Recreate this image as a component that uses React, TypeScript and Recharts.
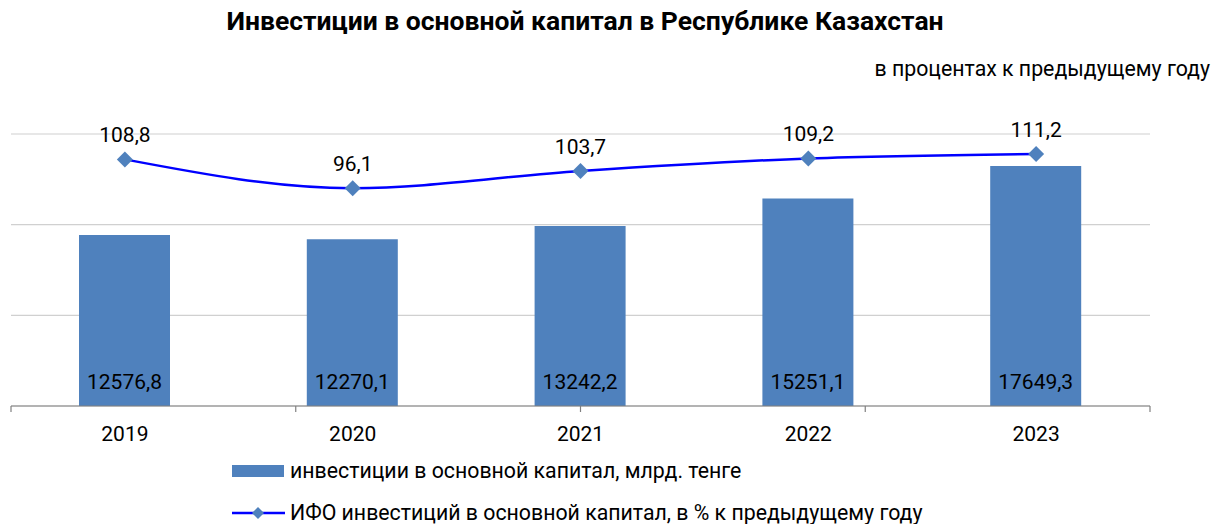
import {
  ComposedChart,
  Bar,
  Line,
  XAxis,
  YAxis,
  CartesianGrid,
  LabelList,
} from "recharts";

const years = ["2019", "2020", "2021", "2022", "2023"];
const investments = [12576.8, 12270.1, 13242.2, 15251.1, 17649.3];
const ifoPercent = [108.8, 96.1, 103.7, 109.2, 111.2];
const edgeTicks = [0, 1, 2, 3, 4, 5];

const BAR_COLOR = "#4f81bd";
const LINE_COLOR = "#0000ff";
const FONT = "Roboto, 'Noto Sans', sans-serif";

const data = years.map((year, i) => ({
  year,
  invest: investments[i],
  ifo: ifoPercent[i],
}));

const fmt = (v: any) => String(v).replace(".", ",");

// ромбик как в Excel
const Diamond = (props: any) => {
  const { cx, cy } = props;
  if (cx == null || cy == null) return null;
  const r = 8;
  return (
    <path
      d={`M${cx},${cy - r} L${cx + r},${cy} L${cx},${cy + r} L${cx - r},${cy} Z`}
      fill={BAR_COLOR}
    />
  );
};

export default function App() {
  return (
    <div
      style={{
        position: "absolute",
        left: 0,
        top: 0,
        width: 1223,
        height: 524,
        background: "#fff",
        fontFamily: FONT,
        color: "#000",
      }}
    >
      <div
        style={{
          position: "absolute",
          top: 5,
          left: 0,
          width: 1170,
          textAlign: "center",
          fontSize: 26.5,
          fontWeight: 700,
        }}
      >
        Инвестиции в основной капитал в Республике Казахстан
      </div>
      <div
        style={{
          position: "absolute",
          top: 56,
          right: 13,
          fontSize: 21.3,
        }}
      >
        в процентах к предыдущему году
      </div>

      <ComposedChart
        width={1223}
        height={524}
        data={data}
        margin={{ top: 134, right: 73, bottom: 82, left: 11 }}
        style={{ fontFamily: FONT }}
      >
        <CartesianGrid
          yAxisId="pct"
          xAxisId="b_cat"
          vertical={false}
          stroke="#d0d0d0"
          strokeWidth={1.2}
        />
        {/* засечки на границах категорий, как в Excel */}
        <XAxis
          xAxisId="a_edges"
          type="number"
          domain={[0, 5]}
          ticks={edgeTicks}
          tickFormatter={() => ""}
          axisLine={{ stroke: "#808080", strokeWidth: 1.2 }}
          tickLine={{ stroke: "#808080", strokeWidth: 1.2 }}
          tickSize={6}
          height={6}
        />
        <XAxis
          xAxisId="b_cat"
          dataKey="year"
          axisLine={false}
          tickLine={false}
          height={30}
          tick={{ fontSize: 21, fill: "#000" }}
          dy={6}
        />
        <YAxis yAxisId="val" hide domain={[0, 20000]} />
        <YAxis
          yAxisId="pct"
          hide
          orientation="right"
          domain={[0, 120]}
          ticks={[0, 40, 80, 120]}
        />
        <Bar
          xAxisId="b_cat"
          yAxisId="val"
          dataKey="invest"
          fill={BAR_COLOR}
          barSize={91}
          isAnimationActive={false}
        >
          <LabelList
            dataKey="invest"
            position="insideBottom"
            offset={17}
            formatter={fmt}
            style={{ fontSize: 21, fill: "#000" }}
          />
        </Bar>
        <Line
          xAxisId="b_cat"
          yAxisId="pct"
          type="monotone"
          dataKey="ifo"
          stroke={LINE_COLOR}
          strokeWidth={2.5}
          dot={<Diamond />}
          activeDot={false}
          isAnimationActive={false}
        >
          <LabelList
            dataKey="ifo"
            position="top"
            offset={17}
            formatter={fmt}
            style={{ fontSize: 21, fill: "#000" }}
          />
        </Line>
      </ComposedChart>

      {/* легенда */}
      <div
        style={{
          position: "absolute",
          left: 232,
          top: 459,
          fontSize: 21.3,
          lineHeight: "24px",
        }}
      >
        <div style={{ display: "flex", alignItems: "center", height: 24 }}>
          <span
            style={{
              display: "inline-block",
              width: 52,
              height: 12,
              background: BAR_COLOR,
              marginRight: 6,
            }}
          />
          инвестиции в основной капитал, млрд. тенге
        </div>
        <div
          style={{
            display: "flex",
            alignItems: "center",
            height: 24,
            marginTop: 18,
          }}
        >
          <svg width={53} height={16} style={{ marginRight: 5 }}>
            <line x1={0} y1={8} x2={53} y2={8} stroke={LINE_COLOR} strokeWidth={2.5} />
            <path d="M26,2 L32,8 L26,14 L20,8 Z" fill={BAR_COLOR} />
          </svg>
          ИФО инвестиций в основной капитал, в % к предыдущему году
        </div>
      </div>
    </div>
  );
}
